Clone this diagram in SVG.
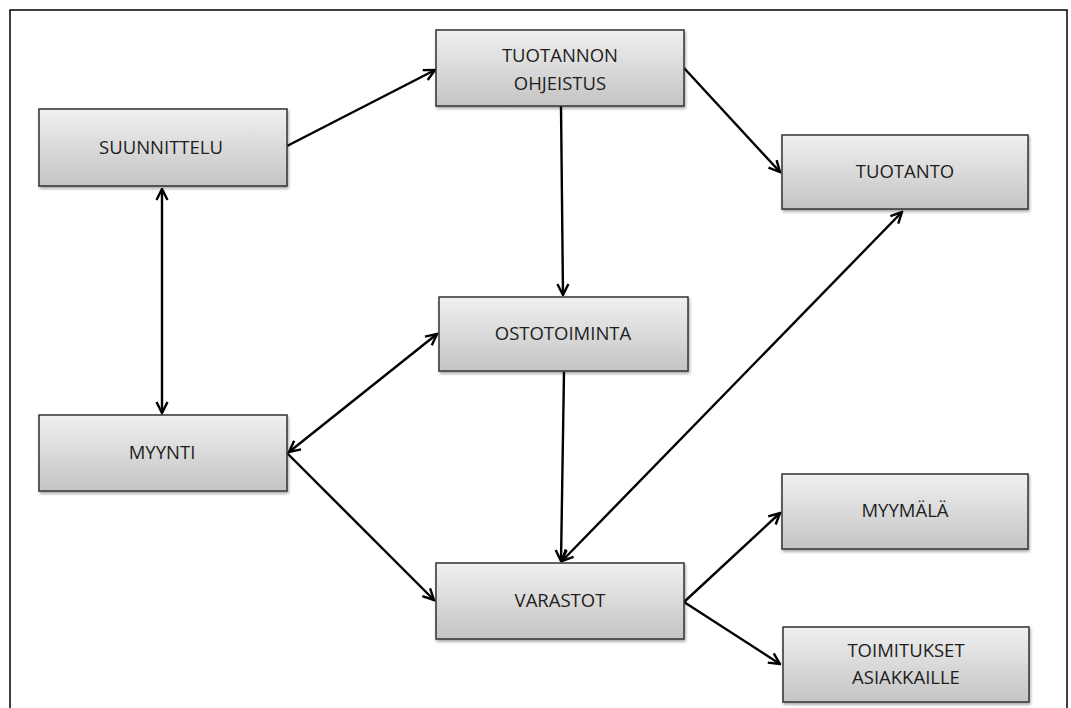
<svg xmlns="http://www.w3.org/2000/svg" width="1071" height="708" viewBox="0 0 1071 708">
<defs>
<linearGradient id="g" x1="0" y1="0" x2="0" y2="1">
<stop offset="0" stop-color="#f0f0f0"/>
<stop offset="1" stop-color="#c4c4c4"/>
</linearGradient>
<filter id="sh" x="-5%" y="-10%" width="115%" height="130%">
<feGaussianBlur in="SourceAlpha" stdDeviation="1.5"/>
<feOffset dx="1" dy="2" result="b"/>
<feComponentTransfer><feFuncA type="linear" slope="0.35"/></feComponentTransfer>
<feMerge><feMergeNode/><feMergeNode in="SourceGraphic"/></feMerge>
</filter>
<marker id="ah" viewBox="0 0 14 14" refX="12.5" refY="7" markerWidth="14" markerHeight="14" markerUnits="userSpaceOnUse" orient="auto-start-reverse">
<path d="M1.5,1.5 L12.5,7 L1.5,12.5" fill="none" stroke="#000" stroke-width="2.4" stroke-linejoin="miter"/>
</marker>
</defs>
<style>
.box{fill:url(#g);stroke:#333;stroke-width:1.5;filter:url(#sh)}
.t{font-family:"Open Sans","Liberation Sans",sans-serif;font-size:18.5px;fill:#1e1e1e;text-anchor:middle}
.c{stroke:#000;stroke-width:2.4;fill:none}
.e{marker-end:url(#ah)}
.b{marker-start:url(#ah);marker-end:url(#ah)}
</style>
<rect width="1071" height="708" fill="#fff"/>
<rect x="10" y="10" width="1057" height="710" fill="none" stroke="#000" stroke-width="1.5"/>
<g id="connectors">
<line class="c e" x1="287" y1="146" x2="435" y2="70"/>
<line class="c e" x1="684" y1="68" x2="780" y2="172"/>
<line class="c e" x1="561" y1="106" x2="563" y2="295"/>
<line class="c b" x1="162" y1="189" x2="162" y2="413"/>
<line class="c b" x1="289" y1="452" x2="437" y2="334"/>
<line class="c e" x1="287" y1="453" x2="434" y2="600"/>
<line class="c e" x1="564" y1="372" x2="561" y2="561"/>
<line class="c b" x1="902" y1="212" x2="562" y2="561"/>
<line class="c e" x1="684" y1="602" x2="780" y2="513"/>
<line class="c e" x1="684" y1="602" x2="780" y2="664"/>
</g>
<g id="suunnittelu"><rect class="box" x="39" y="109" width="248" height="77"/><text class="t" x="161" y="154">SUUNNITTELU</text></g>
<g id="tuotannon-ohjeistus"><rect class="box" x="436" y="30" width="248" height="76"/><text class="t" x="560" y="62">TUOTANNON</text><text class="t" x="560" y="90">OHJEISTUS</text></g>
<g id="tuotanto"><rect class="box" x="782" y="135" width="246" height="74"/><text class="t" x="905" y="178">TUOTANTO</text></g>
<g id="ostotoiminta"><rect class="box" x="439" y="297" width="249" height="74"/><text class="t" x="563" y="340">OSTOTOIMINTA</text></g>
<g id="myynti"><rect class="box" x="39" y="415" width="248" height="76"/><text class="t" x="162" y="459">MYYNTI</text></g>
<g id="varastot"><rect class="box" x="436" y="563" width="248" height="76"/><text class="t" x="560" y="607">VARASTOT</text></g>
<g id="myymala"><rect class="box" x="782" y="474" width="246" height="75"/><text class="t" x="905" y="517">MYYMÄLÄ</text></g>
<g id="toimitukset"><rect class="box" x="783" y="627" width="246" height="75"/><text class="t" x="906" y="657">TOIMITUKSET</text><text class="t" x="906" y="684">ASIAKKAILLE</text></g>
</svg>
